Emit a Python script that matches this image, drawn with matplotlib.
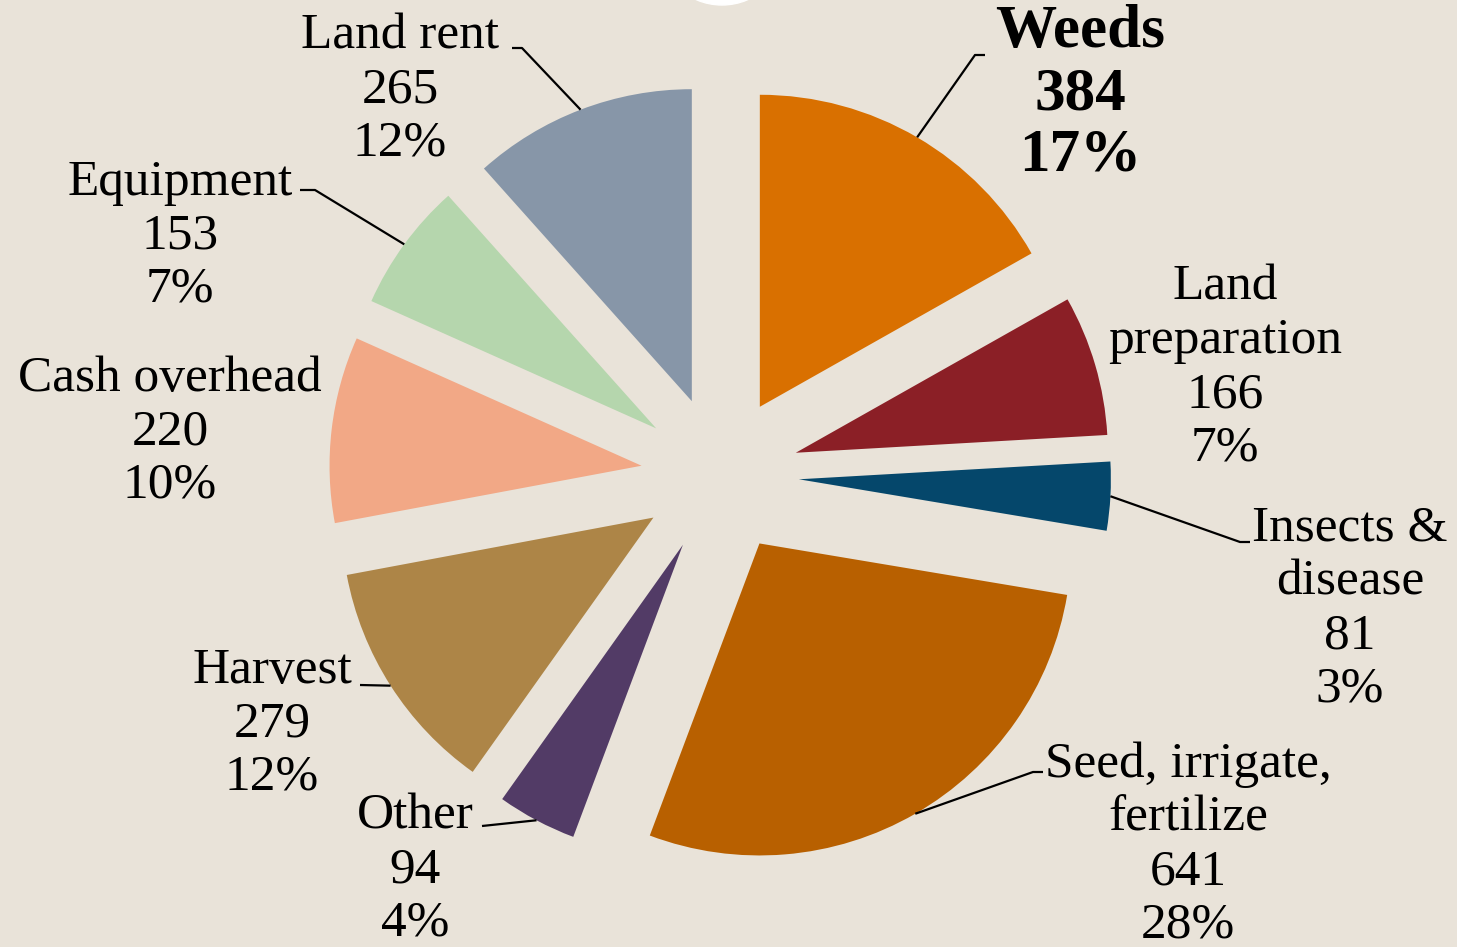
import math
import matplotlib
matplotlib.use('Agg')
import matplotlib.pyplot as plt

# data
categories = ['Weeds', 'Land\npreparation', 'Insects &\ndisease', 'Seed, irrigate,\nfertilize',
              'Other', 'Harvest', 'Cash overhead', 'Equipment', 'Land rent']
costs = [384, 166, 81, 641, 94, 279, 220, 153, 265]
shares = ['17%', '7%', '3%', '28%', '4%', '12%', '10%', '7%', '12%']

colors = ['#D97000', '#8B1F26', '#05476B', '#B86000', '#523B66',
          '#AD8547', '#F2A886', '#B5D6AD', '#8796A8']

W, H = 1457, 947
BG = '#E9E3D9'
CX, CY = 720, H - 475   # pie centre in pixel units (y up)
R = 312
EXPL = 79

# label layout (pixel coords, y measured from top): text centre, knee of leader, end of leader
label_pos = [(1080, 94), (1225, 368), (1350, 609), (1188, 845), (415, 870),
             (272, 724), (170, 432), (180, 236), (400, 90)]
leaders = [[(975, 55), (985, 55)], None, [(1240, 542), (1250, 542)], [(1033, 772), (1043, 772)],
           [(482, 826)], [(360, 685)], None, [(315, 190), (300, 190)], [(522, 48), (512, 48)]]

fig = plt.figure(figsize=(W / 100, H / 100), dpi=100, facecolor=BG)
ax = fig.add_axes([0, 0, 1, 1])
ax.set_facecolor(BG)

wedges, _ = ax.pie(costs, colors=colors, startangle=90, counterclock=False,
                   radius=R, center=(CX, CY), explode=[EXPL] * len(costs),
                   wedgeprops=dict(linewidth=0))

ax.set_xlim(0, W)
ax.set_ylim(0, H)
ax.set_aspect('equal')
ax.axis('off')

# small white disc peeking at the top
ax.add_patch(plt.Circle((722, H + 60), 65, color='white', zorder=0))

for i, wdg in enumerate(wedges):
    tm = math.radians((wdg.theta1 + wdg.theta2) / 2)
    wx, wy = wdg.center
    sx, sy = wx + R * math.cos(tm), wy + R * math.sin(tm)
    if leaders[i] is not None:
        xs = [sx] + [p[0] for p in leaders[i]]
        ys = [sy] + [H - p[1] for p in leaders[i]]
        ax.plot(xs, ys, color='black', lw=1.6, solid_capstyle='butt')
    txt = f'{categories[i]}\n{costs[i]}\n{shares[i]}'
    bold = i == 0
    ax.text(label_pos[i][0], H - label_pos[i][1], txt, ha='center', va='center',
            multialignment='center', family='Liberation Serif',
            fontsize=44 if bold else 37, fontweight='bold' if bold else 'normal',
            linespacing=1.13 if bold else 1.2, color='black')

fig.savefig('out.png', dpi=100, facecolor=BG)
